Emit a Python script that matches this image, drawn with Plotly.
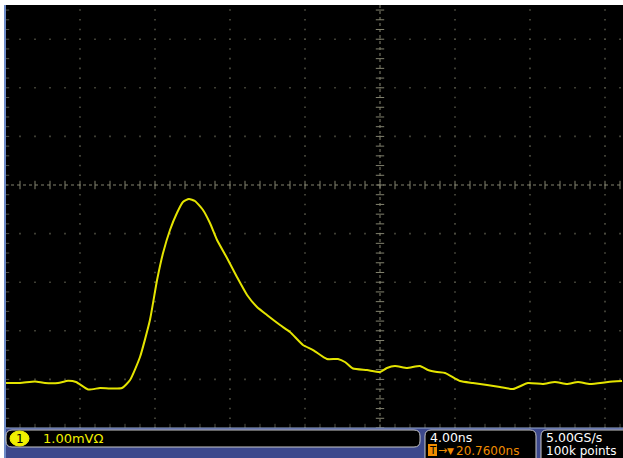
import numpy as np
import plotly.graph_objects as go

# Channel 1 acquisition: time (ns, trigger at 0) and amplitude (mV, screen-centre referenced)
time_ns = [-20.27, -19.20, -18.40, -17.87, -17.17, -16.64, -16.21, -15.57, -14.93, -14.40,
           -13.76, -13.33, -12.80, -12.27, -11.89, -11.57, -11.20, -10.83, -10.51, -10.19,
           -9.87, -9.44, -9.07, -8.69, -8.16, -7.63, -7.09, -6.56, -6.03, -5.33,
           -4.80, -4.11, -3.57, -2.83, -2.24, -1.87, -1.44, -0.69, 0.00, 0.37,
           0.80, 1.44, 2.13, 2.56, 3.04, 3.47, 4.27, 4.96, 5.71, 6.40,
           7.09, 7.89, 8.69, 9.33, 9.97, 10.56, 11.20, 12.16, 12.91]
ch1_mv = [-4.074, -4.074, -4.043, -4.074, -4.074, -4.027, -4.053, -4.208, -4.177, -4.187,
          -4.177, -4.012, -3.539, -2.778, -1.955, -1.399, -0.926, -0.576, -0.350, -0.288,
          -0.329, -0.514, -0.782, -1.132, -1.502, -1.893, -2.263, -2.510, -2.675, -2.881,
          -3.025, -3.292, -3.395, -3.580, -3.580, -3.642, -3.776, -3.807, -3.848, -3.765,
          -3.724, -3.765, -3.724, -3.807, -3.848, -3.868, -4.033, -4.074, -4.115, -4.156,
          -4.198, -4.074, -4.095, -4.053, -4.095, -4.053, -4.095, -4.053, -4.033]

# Scope settings shown in the readout bar
ch_label = "1"
ch_scale = "1.00mVΩ"
time_scale = "4.00ns"
trig_pos = "20.7600ns"
sample_rate = "5.00GS/s"
record_len = "100k points"

NS_PER_DIV = 4.0
MV_PER_DIV = 1.0
X_RANGE = [-20.0, 12.96]
Y_RANGE = [-5.617, 3.704]

W, H = 623, 458
ML, MT = 5, 5
PW, PH = W - ML, H - MT


def px(x):
    return (x - ML) / PW


def py(y):
    return 1 - (y - MT) / PH


def rounded_rect(x0, y0, x1, y1, r):
    rx, ry = r / PW, r / PH
    a, b, c, d = px(x0), py(y0), px(x1), py(y1)
    return (f"M {a+rx},{b} L {c-rx},{b} Q {c},{b} {c},{b-ry} L {c},{d+ry} "
            f"Q {c},{d} {c-rx},{d} L {a+rx},{d} Q {a},{d} {a},{d+ry} "
            f"L {a},{b-ry} Q {a},{b} {a+rx},{b} Z")


fig = go.Figure()

dot_col = "rgb(78,78,66)"
ctr_col = "rgb(130,130,110)"

# Dotted graticule: major lines made of points at the minor subdivisions
major_x = np.arange(-16, 13, NS_PER_DIV)
major_y = np.arange(-4, 4, MV_PER_DIV)
minor_x = np.arange(-20, 13, NS_PER_DIV / 5)
minor_y = np.arange(-5, 3.8, MV_PER_DIV / 5)

gx, gy = [], []
for xv in major_x:
    if xv == 0:
        continue
    gx += list(np.full(len(minor_y), xv))
    gy += list(minor_y)
for yv in major_y:
    if yv == 0:
        continue
    gx += list(minor_x)
    gy += list(np.full(len(minor_x), yv))
fig.add_trace(go.Scatter(x=gx, y=gy, mode="markers", hoverinfo="skip",
                         marker=dict(symbol="square", size=1.6, color=dot_col, line_width=0)))

# Centre cross-hair with minor ticks
fig.add_trace(go.Scatter(x=X_RANGE, y=[0, 0], mode="lines", hoverinfo="skip",
                         line=dict(color=ctr_col, width=1, dash="dot")))
fig.add_trace(go.Scatter(x=[0, 0], y=[-5, Y_RANGE[1]], mode="lines", hoverinfo="skip",
                         line=dict(color=ctr_col, width=1, dash="dot")))
fig.add_trace(go.Scatter(x=minor_x, y=np.zeros(len(minor_x)), mode="markers", hoverinfo="skip",
                         marker=dict(symbol="line-ns", size=6, line=dict(color=ctr_col, width=1))))
fig.add_trace(go.Scatter(x=np.zeros(len(minor_y)), y=minor_y, mode="markers", hoverinfo="skip",
                         marker=dict(symbol="line-ew", size=6, line=dict(color=ctr_col, width=1))))

# Edge ticks (left and bottom frame)
fig.add_trace(go.Scatter(x=np.full(len(minor_y), X_RANGE[0]), y=minor_y, mode="markers",
                         hoverinfo="skip",
                         marker=dict(symbol="line-ew", size=6, line=dict(color=dot_col, width=1))))
fig.add_trace(go.Scatter(x=minor_x, y=np.full(len(minor_x), -5.0), mode="markers",
                         hoverinfo="skip",
                         marker=dict(symbol="line-ns", size=6, line=dict(color=dot_col, width=1))))

# Channel 1 waveform
fig.add_trace(go.Scatter(x=time_ns, y=ch1_mv, mode="lines", name="CH1",
                         line=dict(color="rgb(228,228,0)", width=2, shape="spline", smoothing=0.5)))

shapes = [
    # readout bar background
    dict(type="rect", xref="paper", yref="paper", x0=0, x1=1, y0=0, y1=py(428),
         fillcolor="rgb(60,72,140)", line_width=0, layer="above"),
    dict(type="line", xref="paper", yref="paper", x0=0, x1=1, y0=py(428), y1=py(428),
         line=dict(color="rgb(150,170,210)", width=1), layer="above"),
    dict(type="line", xref="paper", yref="paper", x0=0, x1=0, y0=0, y1=1,
         line=dict(color="rgb(110,140,200)", width=2), layer="above"),
    # readout boxes
    dict(type="path", xref="paper", yref="paper", path=rounded_rect(6, 430, 420, 447, 6),
         fillcolor="black", line=dict(color="rgb(200,200,200)", width=1), layer="above"),
    dict(type="path", xref="paper", yref="paper", path=rounded_rect(425, 430, 536, 465, 6),
         fillcolor="black", line=dict(color="rgb(200,200,200)", width=1), layer="above"),
    dict(type="path", xref="paper", yref="paper", path=rounded_rect(541, 430, 630, 465, 6),
         fillcolor="black", line=dict(color="rgb(200,200,200)", width=1), layer="above"),
    # channel badge
    dict(type="circle", xref="paper", yref="paper", x0=px(10), x1=px(29), y0=py(431), y1=py(446),
         fillcolor="rgb(240,240,0)", line=dict(color="rgb(240,240,0)", width=1), layer="above"),
    # trigger badge
    dict(type="rect", xref="paper", yref="paper", x0=px(428), x1=px(437), y0=py(444), y1=py(456),
         fillcolor="rgb(240,140,0)", line_width=0, layer="above"),
]

font = "DejaVu Sans"
ann = [
    dict(x=px(19.5), y=py(438.5), text=ch_label, font=dict(color="black", size=12, family=font)),
    dict(x=px(42), y=py(438.5), text=ch_scale, xanchor="left",
         font=dict(color="rgb(240,240,0)", size=13, family=font)),
    dict(x=px(429), y=py(437), text=time_scale, xanchor="left",
         font=dict(color="white", size=12.5, family=font)),
    dict(x=px(432.5), y=py(450), text="T", font=dict(color="black", size=10, family=font)),
    dict(x=px(437), y=py(450.5), text="→", xanchor="left",
         font=dict(color="rgb(240,140,0)", size=11, family=font)),
    dict(x=px(446), y=py(450.5), text="▼", xanchor="left",
         font=dict(color="rgb(240,140,0)", size=9, family=font)),
    dict(x=px(455), y=py(450.5), text=trig_pos, xanchor="left",
         font=dict(color="rgb(240,140,0)", size=12, family=font)),
    dict(x=px(545), y=py(437), text=sample_rate, xanchor="left",
         font=dict(color="white", size=12.5, family=font)),
    dict(x=px(545), y=py(450.5), text=record_len, xanchor="left",
         font=dict(color="white", size=12, family=font)),
]
for a in ann:
    a.update(xref="paper", yref="paper", showarrow=False, yanchor="middle",
             borderpad=0)
    a.setdefault("xanchor", "center")

fig.update_layout(
    width=W, height=H,
    margin=dict(l=ML, r=0, t=MT, b=0, pad=0),
    paper_bgcolor="white", plot_bgcolor="black",
    showlegend=False,
    xaxis=dict(range=X_RANGE, visible=False, fixedrange=True),
    yaxis=dict(range=Y_RANGE, visible=False, fixedrange=True),
    shapes=shapes, annotations=ann,
)

fig.write_html("out.html")
